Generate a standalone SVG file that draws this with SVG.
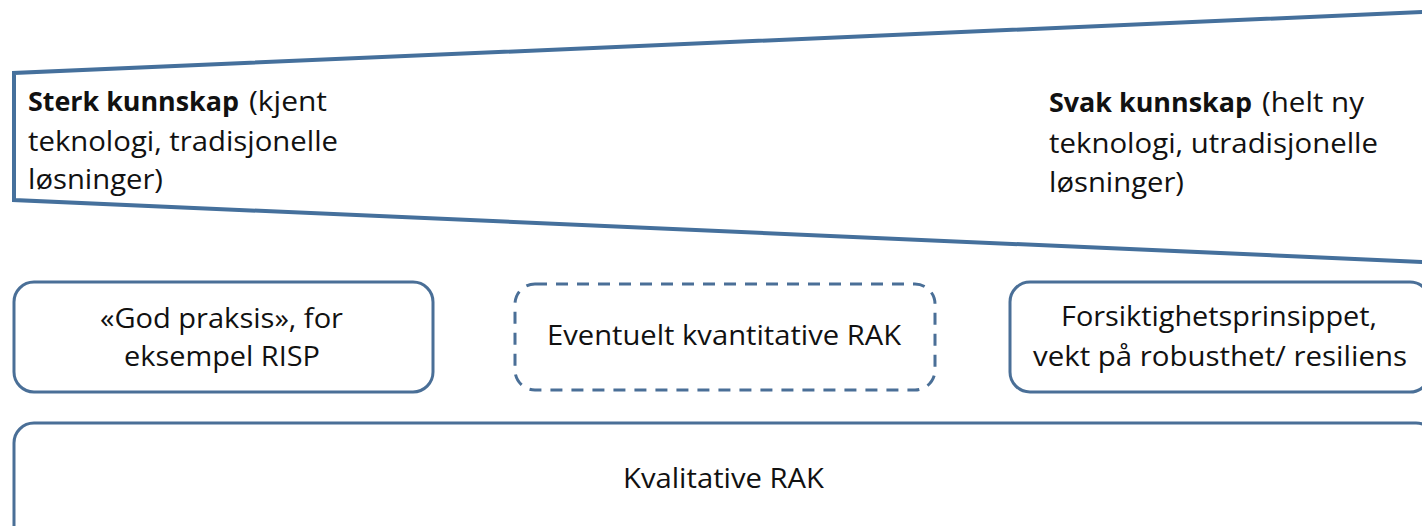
<svg xmlns="http://www.w3.org/2000/svg" width="1422" height="526" viewBox="0 0 1422 526">
<style>
.ln{fill:none;stroke:#45709c;stroke-width:4;stroke-linejoin:miter}
.bx{fill:#fff;stroke:#4a6f97;stroke-width:3}
.ds{stroke-dasharray:12 9}
text{font-family:"Open Sans","Liberation Sans",sans-serif;font-size:27px;fill:#111}
.b{font-weight:bold}
</style>
<rect width="1422" height="526" fill="#fff"/>
<g id="wedge">
<path class="ln" d="M1424,12 L14,73 L14,200 L1424,262"/>
</g>
<g id="strong">
<text><tspan class="b" x="28" y="111" textLength="211" lengthAdjust="spacingAndGlyphs">Sterk kunnskap</tspan><tspan x="249" y="111" textLength="78" lengthAdjust="spacingAndGlyphs">(kjent</tspan></text>
<text x="28" y="151" textLength="310" lengthAdjust="spacingAndGlyphs">teknologi, tradisjonelle</text>
<text x="28" y="189" textLength="135" lengthAdjust="spacingAndGlyphs">løsninger)</text>
</g>
<g id="weak">
<text><tspan class="b" x="1049" y="112" textLength="203" lengthAdjust="spacingAndGlyphs">Svak kunnskap</tspan><tspan x="1262" y="112" textLength="102" lengthAdjust="spacingAndGlyphs">(helt ny</tspan></text>
<text x="1049" y="153" textLength="329" lengthAdjust="spacingAndGlyphs">teknologi, utradisjonelle</text>
<text x="1049" y="192" textLength="135" lengthAdjust="spacingAndGlyphs">løsninger)</text>
</g>
<g id="goodpractice">
<rect class="bx" x="14" y="282" width="419" height="110" rx="20"/>
<text x="100" y="328" textLength="243" lengthAdjust="spacingAndGlyphs">«God praksis», for</text>
<text x="124" y="366" textLength="196" lengthAdjust="spacingAndGlyphs">eksempel RISP</text>
</g>
<g id="quantitative">
<rect class="bx ds" x="515" y="284" width="420" height="106" rx="20"/>
<text x="547" y="345" textLength="354" lengthAdjust="spacingAndGlyphs">Eventuelt kvantitative RAK</text>
</g>
<g id="precaution">
<rect class="bx" x="1010" y="282" width="420" height="110" rx="20"/>
<text x="1061" y="326" textLength="316" lengthAdjust="spacingAndGlyphs">Forsiktighetsprinsippet,</text>
<text x="1033" y="366" textLength="374" lengthAdjust="spacingAndGlyphs">vekt på robusthet/ resiliens</text>
</g>
<g id="qualitative">
<rect class="bx" x="14" y="423" width="1422" height="130" rx="20"/>
<text x="623" y="488" textLength="201" lengthAdjust="spacingAndGlyphs">Kvalitative RAK</text>
</g>
<g id="connectors"/>
</svg>
